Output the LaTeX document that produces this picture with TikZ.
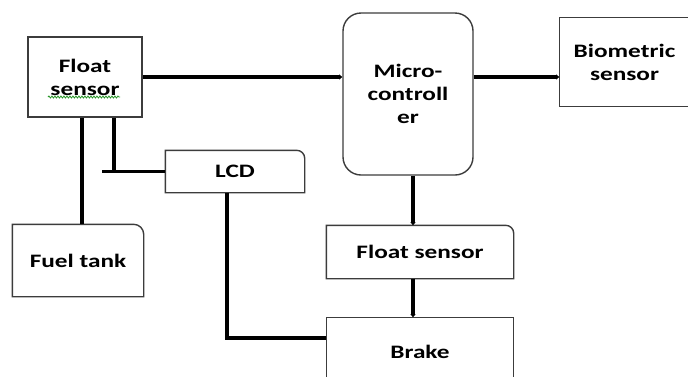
\documentclass[tikz,border=0pt]{standalone}
\usepackage{fontspec}
\setmainfont{Carlito}[FakeStretch=1.33]
\usepackage{xcolor}
\definecolor{edgegray}{RGB}{60,60,60}
\definecolor{squiggle}{RGB}{40,150,40}
\usetikzlibrary{arrows.meta,positioning,calc,decorations.pathmorphing}

\begin{document}
\begin{tikzpicture}[
  x=1pt,y=1pt,
  box/.style={draw=edgegray,line width=1.4pt,inner sep=0pt,
    font=\fontsize{19}{23}\selectfont\bfseries,align=center},
  openbox/.style={box,draw=none},
  edge/.style={draw=edgegray,line width=1.4pt},
  wire/.style={line width=3.6pt,black},
  arr/.style={wire,-{Latex[length=3pt,width=6pt]}}
]
  \useasboundingbox[fill=white] (0,0) rectangle (688,-376);
  % Float sensor (top left)
  \node[box,minimum width=114,minimum height=80] (float1) at (85,-77) {Float\\sensor};
  \draw[squiggle,line width=0.8pt,decorate,decoration={snake,amplitude=1pt,segment length=3pt}]
    (48,-97) -- (120,-97);
  % Microcontroller
  \node[box,rounded corners=18pt,minimum width=130,minimum height=162] (micro) at (408,-94)
    {Micro-\\controll\\er};
  % Biometric sensor (cut off at the right edge)
  \node[openbox,minimum width=129,minimum height=88] (bio) at (624.5,-62) {Biometric\\sensor};
  \draw[edge] (bio.north east) -- (bio.north west) -- (bio.south west) -- (bio.south east);
  % LCD
  \node[openbox,minimum width=138,minimum height=41] (lcd) at (235,-171.5) {LCD};
  \draw[edge] (lcd.south west) -- (lcd.north west) -- ([xshift=-8pt]lcd.north east)
    arc[start angle=90,end angle=0,radius=8pt] -- (lcd.south east) -- cycle;
  % Fuel tank
  \node[openbox,minimum width=130,minimum height=71] (fuel) at (78,-260.5) {Fuel tank};
  \draw[edge] (fuel.south west) -- (fuel.north west) -- ([xshift=-10pt]fuel.north east)
    arc[start angle=90,end angle=0,radius=10pt] -- (fuel.south east) -- cycle;
  % Float sensor (middle)
  \node[openbox,minimum width=186,minimum height=52] (float2) at (420,-252) {Float sensor};
  \draw[edge] (float2.south west) -- (float2.north west) -- ([xshift=-8pt]float2.north east)
    arc[start angle=90,end angle=0,radius=8pt] -- (float2.south east) -- cycle;
  % Brake (cut off at the bottom edge)
  \node[openbox,minimum width=186,minimum height=68] (brake) at (420,-352) {Brake};
  \draw[edge] (brake.south west) -- (brake.north west) -- (brake.north east) -- (brake.south east);
  % Connections
  \draw[arr] (float1) -- (float1 -| micro.west);
  \draw[arr] (micro.east |- float1) -- (bio.west |- float1);
  \draw[wire] ([xshift=-3pt]float1.south) -- ([xshift=-3pt]float1.south |- fuel.north);
  \draw[wire] ([xshift=29pt]float1.south) -- ([xshift=29pt]float1.south |- lcd.west);
  \coordinate (stub) at ([xshift=17pt]float1.south |- lcd.west);
  \draw[wire] (stub) -- (lcd.west);
  \draw[arr] ([xshift=5pt]micro.south) -- ([xshift=5pt]micro.south |- float2.north);
  \draw[arr] ([xshift=-7pt]float2.south) -- ([xshift=-7pt]brake.north);
  \draw[wire] ([xshift=-8pt]lcd.south) |- ([yshift=14pt]brake.west);
\end{tikzpicture}
\end{document}
